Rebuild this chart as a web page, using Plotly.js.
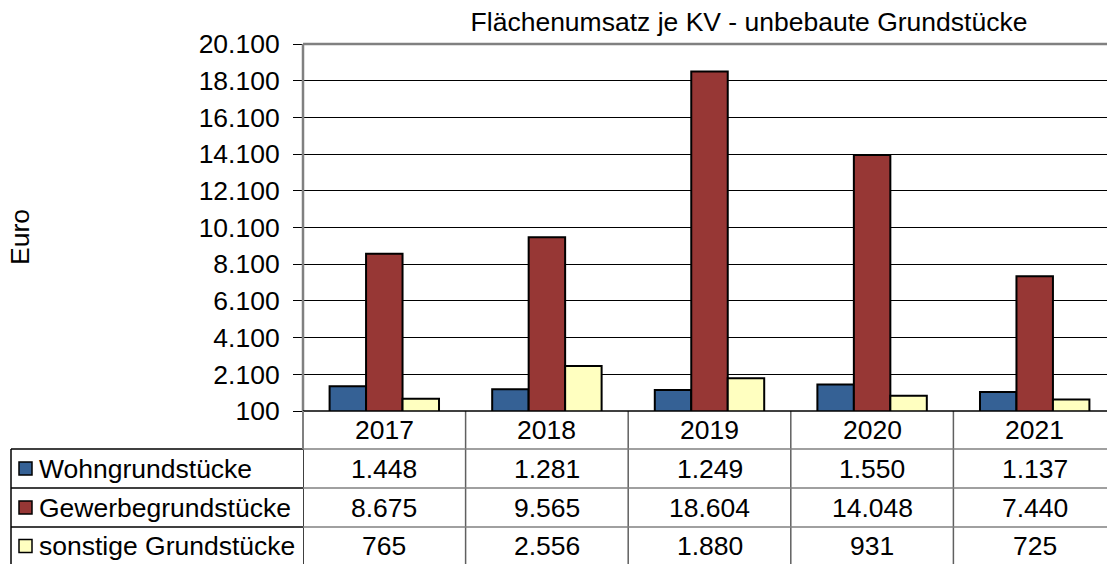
<!DOCTYPE html>
<html>
<head>
<meta charset="utf-8">
<script src="https://cdn.plot.ly/plotly-3.0.1.min.js"></script>
<style>
html,body{margin:0;padding:0;background:#fff;}
#chart{width:1107px;height:564px;}
</style>
</head>
<body>
<div id="chart"></div>
<script>
// ---- data ----
const years = ["2017", "2018", "2019", "2020", "2021"];
const seriesNames = ["Wohngrundstücke", "Gewerbegrundstücke", "sonstige Grundstücke"];
const wohn = [1448, 1281, 1249, 1550, 1137];
const gewerbe = [8675, 9565, 18604, 14048, 7440];
const sonstige = [765, 2556, 1880, 931, 725];
const seriesColors = ["#356195", "#973735", "#FFFFC0"];
const chartTitle = "Flächenumsatz je KV - unbebaute Grundstücke";
const yTitle = "Euro";

// ---- helpers ----
const FONT = "Liberation Sans, Arial, sans-serif";
const FS = 26.5;
function fmt(v){
  const s = String(Math.round(v));
  return s.replace(/\B(?=(\d{3})+(?!\d))/g, ".");
}
const W = 1107, H = 564;
const mL = 303, mT = 44, mB = 153;
const plotW = W - mL, plotH = H - mT - mB;
const px2x = px => (px - mL) / plotW;        // paper x
const py2y = py => (H - mB - py) / plotH;    // paper y

const xIdx = years.map((_, i) => i);
const allSeries = [wohn, gewerbe, sonstige];

const traces = allSeries.map((vals, s) => ({
  type: "bar",
  x: xIdx,
  y: vals,
  name: seriesNames[s],
  marker: {color: seriesColors[s], line: {color: "#000", width: 2}},
  hoverinfo: "skip"
}));

// table geometry (pixels)
const rowLines = [449, 488, 527];
const rowCenters = [430, 468.5, 507.5, 546];
const bottomY = py2y(H + 2);

const shapes = [];
const annotations = [];

// vertical category separators in table
for (let k = 0; k <= years.length; k++) {
  shapes.push({type: "line", xref: "x", yref: "paper", x0: k - 0.5, x1: k - 0.5,
    y0: 0, y1: bottomY, line: {color: k === 0 ? "#000" : "#606060", width: 1.5}});
}
// horizontal row separators
rowLines.forEach(py => {
  shapes.push({type: "line", xref: "paper", yref: "paper", x0: 0, x1: 1.02,
    y0: py2y(py), y1: py2y(py), line: {color: "#808080", width: 1.5}});
  shapes.push({type: "line", xref: "paper", yref: "paper", x0: px2x(11), x1: 0,
    y0: py2y(py), y1: py2y(py), line: {color: "#000", width: 1.5}});
});
// left border of legend column
shapes.push({type: "line", xref: "paper", yref: "paper", x0: px2x(11), x1: px2x(11),
  y0: py2y(449), y1: bottomY, line: {color: "#000", width: 1.5}});
// plot left border (gray) and top border (gray)
shapes.push({type: "line", xref: "paper", yref: "paper", x0: 0, x1: 0, y0: 0, y1: 1,
  line: {color: "#808080", width: 2.5}});
shapes.push({type: "line", xref: "paper", yref: "paper", x0: 0, x1: 1.02, y0: 1, y1: 1,
  line: {color: "#808080", width: 2.5}});
// bottom axis line
shapes.push({type: "line", xref: "paper", yref: "paper", x0: 0, x1: 1.02, y0: 0, y1: 0,
  line: {color: "#000", width: 1.5}});
// gray header-row portion of left border
shapes.push({type: "line", xref: "paper", yref: "paper", x0: 0, x1: 0, y0: 0, y1: py2y(449),
  line: {color: "#808080", width: 2}});

// year header row
years.forEach((yr, i) => {
  annotations.push({xref: "x", yref: "paper", x: i, y: py2y(rowCenters[0]), text: yr,
    showarrow: false, xanchor: "center", yanchor: "middle", font: {family: FONT, size: FS, color: "#000"}});
});
// series rows
allSeries.forEach((vals, s) => {
  const cy = py2y(rowCenters[s + 1]);
  shapes.push({type: "rect", xref: "paper", yref: "paper",
    x0: px2x(19), x1: px2x(32), y0: py2y(rowCenters[s + 1] + 6.5), y1: py2y(rowCenters[s + 1] - 6.5),
    fillcolor: seriesColors[s], line: {color: "#000", width: 1.5}});
  annotations.push({xref: "paper", yref: "paper", x: px2x(37), y: cy, text: seriesNames[s],
    showarrow: false, xanchor: "left", yanchor: "middle", font: {family: FONT, size: FS, color: "#000"}});
  vals.forEach((v, i) => {
    annotations.push({xref: "x", yref: "paper", x: i, y: cy, text: fmt(v),
      showarrow: false, xanchor: "center", yanchor: "middle", font: {family: FONT, size: FS, color: "#000"}});
  });
});
// y axis title
annotations.push({xref: "paper", yref: "paper", x: px2x(20), y: py2y(237), text: yTitle,
  textangle: -90, showarrow: false, xanchor: "center", yanchor: "middle",
  font: {family: FONT, size: FS, color: "#000"}});

const layout = {
  width: W, height: H,
  margin: {l: mL, r: 0, t: mT, b: mB, pad: 0},
  paper_bgcolor: "#fff", plot_bgcolor: "#fff",
  separators: ",.",
  showlegend: false,
  barmode: "group",
  bargap: 0.327,
  bargroupgap: 0,
  font: {family: FONT, size: FS, color: "#000"},
  title: {text: chartTitle, xref: "paper", x: px2x(749), xanchor: "center",
    yref: "container", y: 1 - 22 / H, yanchor: "middle",
    font: {family: FONT, size: FS, color: "#000"}},
  xaxis: {
    range: [-0.5, -0.5 + plotW / 162.6],
    showticklabels: false, ticks: "", showgrid: false, zeroline: false, showline: false,
    fixedrange: true
  },
  yaxis: {
    range: [100, 20100], tick0: 100, dtick: 2000, tickformat: ",d",
    ticks: "outside", ticklen: 9, tickwidth: 1, tickcolor: "#000",
    ticklabelstandoff: 8,
    showgrid: true, gridcolor: "#000", gridwidth: 1,
    zeroline: false, showline: false,
    tickfont: {family: FONT, size: FS, color: "#000"},
    fixedrange: true
  },
  shapes: shapes,
  annotations: annotations
};

Plotly.newPlot("chart", traces, layout, {displayModeBar: false, staticPlot: true});
</script>
</body>
</html>
